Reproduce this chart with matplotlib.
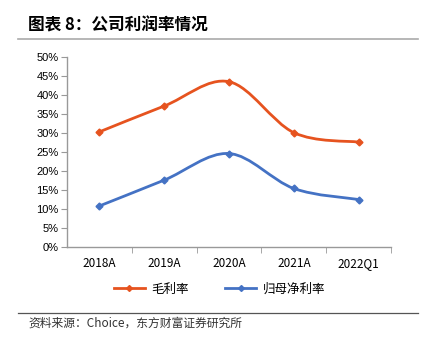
import matplotlib

matplotlib.use("Agg")
import matplotlib.pyplot as plt
from matplotlib.path import Path
from matplotlib.patches import PathPatch
from matplotlib.lines import Line2D

plt.rcParams["font.family"] = ["Noto Sans CJK SC", "DejaVu Sans"]

categories = ["2018A", "2019A", "2020A", "2021A", "2022Q1"]
gross_margin = [30.3, 37.1, 43.5, 30.1, 27.6]
net_margin = [10.8, 17.6, 24.6, 15.4, 12.5]
series_names = ["毛利率", "归母净利率"]
colors = ["#E6531F", "#4472C4"]
yticks = list(range(0, 51, 5))


def smooth_path(xs, ys):
    # Excel-style smoothed line: cubic bezier with catmull-rom control points
    verts = [(xs[0], ys[0])]
    codes = [Path.MOVETO]
    n = len(xs)
    for i in range(n - 1):
        x0, y0 = (xs[i - 1], ys[i - 1]) if i > 0 else (xs[i], ys[i])
        x1, y1 = xs[i], ys[i]
        x2, y2 = xs[i + 1], ys[i + 1]
        x3, y3 = (xs[i + 2], ys[i + 2]) if i + 2 < n else (x2, y2)
        c1 = (x1 + (x2 - x0) / 6, y1 + (y2 - y0) / 6)
        c2 = (x2 - (x3 - x1) / 6, y2 - (y3 - y1) / 6)
        verts += [c1, c2, (x2, y2)]
        codes += [Path.CURVE4] * 3
    return Path(verts, codes)


fig = plt.figure(figsize=(4.27, 3.45), dpi=100)
ax = fig.add_axes([67 / 427, 1 - 247 / 345, 324 / 427, 190 / 345])

x = list(range(len(categories)))
for vals, c in zip([gross_margin, net_margin], colors):
    ax.add_patch(PathPatch(smooth_path(x, vals), fill=False, edgecolor=c, lw=2.0,
                           capstyle="round"))
    ax.plot(x, vals, ls="none", marker="D", ms=3.5, color=c)

ax.set_xlim(-0.5, len(categories) - 0.5)
ax.set_ylim(0, 50)
ax.set_yticks(yticks)
ax.set_yticklabels([f"{v}%" for v in yticks], family="Liberation Sans", fontsize=8)
ax.set_xticks(x)
ax.set_xticklabels(categories, fontsize=8.5)
ax.set_xticks([i + 0.5 for i in range(len(categories))], minor=True)
ax.tick_params(axis="x", which="major", length=0, pad=7)
ax.tick_params(axis="x", which="minor", length=4, color="#999999", direction="out")
ax.tick_params(axis="y", length=4, color="#999999", pad=2)
for s in ["top", "right"]:
    ax.spines[s].set_visible(False)
for s in ["left", "bottom"]:
    ax.spines[s].set_color("#999999")
    ax.spines[s].set_linewidth(1.0)

handles = [Line2D([], [], color=c, lw=2.0, marker="D", ms=3) for c in colors]
fig.legend(handles, series_names, loc="center",
           bbox_to_anchor=(0.5 + 6 / 427, 1 - 289 / 345),
           ncol=2, frameon=False, fontsize=9, handlelength=2.5, columnspacing=2.9,
           handletextpad=0.5)

fig.text(28 / 427, 1 - 25 / 345, "图表 8：公司利润率情况", fontsize=12, fontweight="bold",
         va="center", ha="left")
fig.add_artist(Line2D([18 / 427, 418 / 427], [1 - 39 / 345] * 2, color="#AAAAAA", lw=1.2))
fig.add_artist(Line2D([18 / 427, 418 / 427], [1 - 313 / 345] * 2, color="#555555", lw=0.9))
fig.text(28 / 427, 1 - 323 / 345, "资料来源：Choice，东方财富证券研究所", fontsize=8.5,
         va="center", ha="left", color="#333333")

fig.savefig("out.png", dpi=100)
